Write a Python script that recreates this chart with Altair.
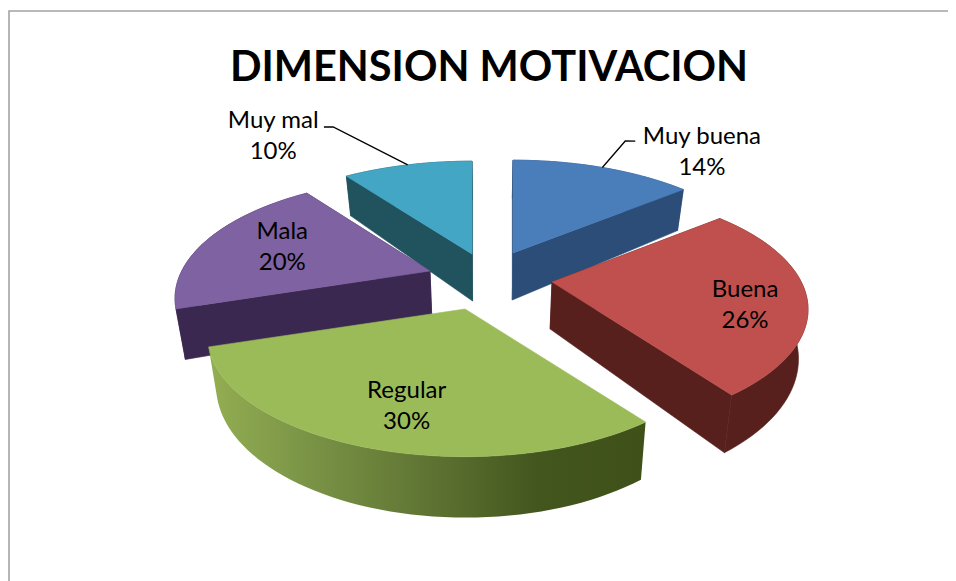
import math
import altair as alt

# ---- values ----
CATEGORIES = ["Muy buena", "Buena", "Regular", "Mala", "Muy mal"]
SHARES = [14, 26, 30, 20, 10]
TITLE = "DIMENSION MOTIVACION"

# ---- appearance ----
TOP_COLORS = ["#4a7ebb", "#c0504d", "#9bbb59", "#7f62a1", "#43a6c4"]
WALL_COLORS = ["#2b4d78", "#57201d", "#6f8a3e", "#3b2850", "#21535f"]
GREEN_STOPS = [(0.0, "#93ae52"), (0.2, "#7d9748"), (0.5, "#5f7433"),
               (0.75, "#43561e"), (1.0, "#3f5119")]
# exploded apex of each slice inside the chart area
APEX = [(505, 245), (544, 274), (457, 301), (422, 263), (464, 246)]
WIDTH_FACTOR = [0.985, 0.97, 0.975, 0.966, 0.985]
RX, RY, PERSP, DEPTH = 257, 114, 0.228, 47
BASE_SHRINK, SHRINK_X = 0.97, 482
# label placement in pie units: angle (deg clockwise from the back) and radius
LABEL_ANGLE = [40.1, 104.5, 195.3, 289.5, 322.8]
LABEL_RADIUS = [1.452, 0.765, 0.739, 0.663, 1.70]
# leader lines: slice index, then elbow and end in pie units
LEADERS = [(0, (24.3, 1.389), (26.2, 1.41)), (4, (333.8, 1.665), (332.3, 1.687))]
DRAW_ORDER = [4, 0, 3, 1]          # back to front; Regular is drawn last
W, H = 940, 573


def top(i, deg, r=1.0):
    apex = APEX[i]
    t = math.radians(deg)
    u, v = r * math.sin(t), r * math.cos(t)
    w = 1 + PERSP * v
    return (apex[0] + RX * WIDTH_FACTOR[i] * u / w, apex[1] - RY * v / w), w


def top_pt(i, deg, r=1.0):
    return top(i, deg, r)[0]


def bot_pt(i, deg, r=1.0):
    (x, y), w = top(i, deg, r)
    return (SHRINK_X + (x - SHRINK_X) * BASE_SHRINK, y + DEPTH / w)


def feature(key, coords, kind="Polygon"):
    pts = [[round(x, 2), round(y, 2)] for x, y in coords]
    if kind == "Polygon":
        pts.append(pts[0])
        geom = {"type": "Polygon", "coordinates": [pts]}
    else:
        geom = {"type": "LineString", "coordinates": pts}
    return {"type": "Feature", "geometry": geom, "properties": {"key": key}}


# slice limits from the shares, starting at the back and running clockwise
starts, ends, run = [], [], 0.0
for s in SHARES:
    starts.append(run * 3.6)
    run += s
    ends.append(run * 3.6)


def arc(i):
    n = max(8, int((ends[i] - starts[i]) / 2))
    return [starts[i] + (ends[i] - starts[i]) * k / n for k in range(n + 1)]


def walls(i):
    key = "w" + str(i)
    out = []
    for deg in (starts[i], ends[i]):
        out.append(feature(key, [top_pt(i, deg, 0), top_pt(i, deg),
                                 bot_pt(i, deg), bot_pt(i, deg, 0)]))
    ds = arc(i)
    out.append(feature(key, [top_pt(i, d) for d in ds] +
                       [bot_pt(i, d) for d in reversed(ds)]))
    return out


def face(i):
    return feature("t" + str(i), [APEX[i]] + [top_pt(i, d) for d in arc(i)])


back = []
for i in DRAW_ORDER:
    back += walls(i)
    back.append(face(i))

keys = ["t%d" % i for i in range(5)] + ["w%d" % i for i in range(5)]
colors = TOP_COLORS + WALL_COLORS
pie_scale = alt.Scale(domain=keys, range=colors)
color_enc = alt.Color("properties.key:N", scale=pie_scale, legend=None)
stroke_enc = alt.Stroke("properties.key:N", scale=pie_scale, legend=None)
proj = dict(type="identity", scale=1, translate=[0, 0])

back_layer = alt.Chart(alt.Data(values=back)).mark_geoshape(
    filled=True, strokeWidth=0.6).encode(color=color_enc, stroke=stroke_enc).project(**proj)

green_wall = alt.Chart(alt.Data(values=walls(2)[2:])).mark_geoshape(
    filled=True, strokeWidth=0,
    fill=alt.Gradient(gradient="linear", x1=0, x2=1, y1=0, y2=0,
                      stops=[alt.GradientStop(offset=o, color=c) for o, c in GREEN_STOPS])
).project(**proj)

green_top = alt.Chart(alt.Data(values=[face(2)])).mark_geoshape(
    filled=True, strokeWidth=0.6).encode(color=color_enc, stroke=stroke_enc).project(**proj)

leader_feats = []
for i, elbow, end in LEADERS:
    mid = (starts[i] + ends[i]) / 2
    leader_feats.append(feature("l", [top_pt(i, mid), top_pt(i, *elbow), top_pt(i, *end)], "LineString"))
leader_layer = alt.Chart(alt.Data(values=leader_feats)).mark_geoshape(
    filled=False, stroke="black", strokeWidth=1.3).project(**proj)

frame_feats = [feature("f", [(1, H), (1, 3), (W, 3)], "LineString")]
frame_layer = alt.Chart(alt.Data(values=frame_feats)).mark_geoshape(
    filled=False, stroke="#a3a3a3", strokeWidth=1.6).project(**proj)

label_rows = []
for i, cat in enumerate(CATEGORIES):
    x, y = top_pt(i, LABEL_ANGLE[i], LABEL_RADIUS[i])
    label_rows.append({"label": f"{cat}\n{SHARES[i]}%", "lon": x, "lat": y})
label_layer = alt.Chart(alt.Data(values=label_rows)).mark_text(
    font="Lato", fontSize=24, color="black", lineBreak="\n", lineHeight=31,
    align="center", baseline="middle", dy=-15
).encode(longitude="lon:Q", latitude="lat:Q", text="label:N").project(**proj)

chart = alt.layer(frame_layer, back_layer, green_wall, green_top,
                  leader_layer, label_layer).properties(
    width=W, height=H,
    padding=0,
    autosize=alt.AutoSizeParams(type="none"),
    background="white",
    title=alt.TitleParams(TITLE, font="Lato", fontSize=41.5, fontWeight="bold",
                          color="black", anchor="middle", frame="group",
                          offset=0, dx=11, dy=114, baseline="alphabetic"),
).configure_view(stroke=None)

chart.save("out.html", embed_options={"renderer": "svg", "actions": False})
